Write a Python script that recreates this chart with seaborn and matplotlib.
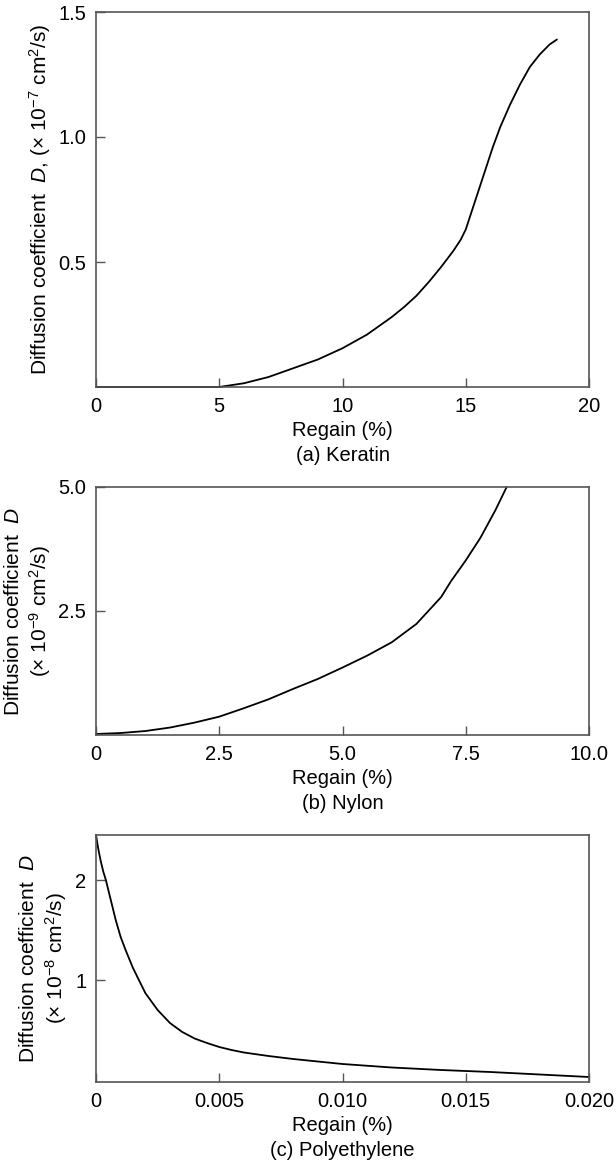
import matplotlib
matplotlib.use("Agg")
import matplotlib.pyplot as plt
import seaborn as sns
import pandas as pd

# ---------------- data ----------------
keratin_regain = [0, 5, 6, 7, 8, 9, 10, 11, 12, 12.5, 13, 13.5, 14, 14.5, 14.8,
                  15.0, 15.2, 15.5, 15.8, 16.1, 16.4, 16.8, 17.2, 17.6, 18.0,
                  18.4, 18.7]
keratin_D = [0, 0, 0.015, 0.04, 0.075, 0.11, 0.155, 0.21, 0.28, 0.32, 0.365,
             0.42, 0.48, 0.545, 0.59, 0.63, 0.69, 0.78, 0.87, 0.96, 1.04, 1.13,
             1.21, 1.28, 1.33, 1.37, 1.39]

nylon_regain = [0, 0.5, 1.0, 1.5, 2.0, 2.5, 3.0, 3.5, 4.0, 4.5, 5.0, 5.5, 6.0,
                6.5, 7.0, 7.2, 7.5, 7.8, 8.1, 8.33]
nylon_D = [0.02, 0.04, 0.08, 0.15, 0.25, 0.37, 0.54, 0.72, 0.93, 1.13, 1.36,
           1.6, 1.87, 2.24, 2.78, 3.1, 3.52, 3.98, 4.53, 5.0]

pe_regain = [0.0, 0.0001, 0.0002, 0.0003, 0.0004, 0.0006, 0.0008, 0.001, 0.0012,
             0.0015, 0.002, 0.0025, 0.003, 0.0035, 0.004, 0.0045, 0.005, 0.0055,
             0.006, 0.007, 0.008, 0.009, 0.010, 0.012, 0.014, 0.016, 0.018, 0.020]
pe_D = [2.45, 2.3, 2.18, 2.08, 2.0, 1.8, 1.6, 1.43, 1.3, 1.12, 0.87, 0.70, 0.57,
        0.48, 0.415, 0.37, 0.33, 0.30, 0.275, 0.24, 0.21, 0.185, 0.16, 0.125,
        0.10, 0.08, 0.055, 0.03]

a_xticks = [0, 5, 10, 15, 20]
a_xticklabels = ["0", "5", "10", "15", "20"]
a_yticks = [0.5, 1.0, 1.5]
a_yticklabels = ["0.5", "1.0", "1.5"]

b_xticks = [0, 2.5, 5.0, 7.5, 10.0]
b_xticklabels = ["0", "2.5", "5.0", "7.5", "10.0"]
b_yticks = [2.5, 5.0]
b_yticklabels = ["2.5", "5.0"]

c_xticks = [0, 0.005, 0.010, 0.015, 0.020]
c_xticklabels = ["0", "0.005", "0.010", "0.015", "0.020"]
c_yticks = [1, 2]
c_yticklabels = ["1", "2"]

a_ylabel = "Diffusion coefficient  $D$, ($\\times$ 10$^{-7}$ cm$^{2}$/s)"
b_ylabel = "Diffusion coefficient  $D$\n($\\times$ 10$^{-9}$ cm$^{2}$/s)"
c_ylabel = "Diffusion coefficient  $D$\n($\\times$ 10$^{-8}$ cm$^{2}$/s)"
a_xlabel = "Regain (%)\n(a) Keratin"
b_xlabel = "Regain (%)\n(b) Nylon"
c_xlabel = "Regain (%)\n(c) Polyethylene"

# ---------------- style ----------------
sns.set_theme(style="ticks")
plt.rcParams["font.family"] = ["Liberation Sans", "DejaVu Sans"]
plt.rcParams["mathtext.fontset"] = "custom"
plt.rcParams["mathtext.rm"] = "Liberation Sans"
plt.rcParams["mathtext.it"] = "Liberation Sans:italic"
plt.rcParams["mathtext.bf"] = "Liberation Sans:bold"

FS = 14.5
YFS = 15
SPINE = "#555555"

fig = plt.figure(figsize=(6.16, 11.6), dpi=100)
W, H = 616, 1160
left, width = 96 / W, 493 / W
axA = fig.add_axes([left, (H - 387) / H, width, 375 / H])
axB = fig.add_axes([left, (H - 735) / H, width, 248 / H])
axC = fig.add_axes([left, (H - 1082) / H, width, 247 / H])

panels = [
    (axA, keratin_regain, keratin_D, (0, 20), (0, 1.5), a_xticks, a_xticklabels,
     a_yticks, a_yticklabels, a_xlabel, a_ylabel, -0.113),
    (axB, nylon_regain, nylon_D, (0, 10), (0, 5.0), b_xticks, b_xticklabels,
     b_yticks, b_yticklabels, b_xlabel, b_ylabel, -0.137),
    (axC, pe_regain, pe_D, (0, 0.02), (-0.02, 2.45), c_xticks, c_xticklabels,
     c_yticks, c_yticklabels, c_xlabel, c_ylabel, -0.105),
]

for ax, xs, ys, xl, yl, xt, xtl, yt, ytl, xlab, ylab, ylx in panels:
    df = pd.DataFrame({"x": xs, "y": ys})
    sns.lineplot(data=df, x="x", y="y", ax=ax, color="black", linewidth=1.3,
                 estimator=None, sort=False, clip_on=False)
    ax.set_xlim(*xl)
    ax.set_ylim(*yl)
    ax.set_xticks(xt)
    ax.set_xticklabels(xtl)
    ax.set_yticks(yt)
    ax.set_yticklabels(ytl)
    for s in ax.spines.values():
        s.set_visible(True)
        s.set_color(SPINE)
        s.set_linewidth(1.2)
    ax.tick_params(axis="both", direction="in", length=6.5, width=1.0,
                   color=SPINE, labelsize=FS, labelcolor="black", pad=7)
    ax.set_xlabel(xlab, fontsize=FS, linespacing=1.4, labelpad=4, color="black")
    ax.set_ylabel(ylab, fontsize=YFS, linespacing=1.25, color="black", va="center")
    ax.yaxis.set_label_coords(ylx, 0.5)
    ax.set_facecolor("white")

fig.savefig("out.png", dpi=100, facecolor="white")
